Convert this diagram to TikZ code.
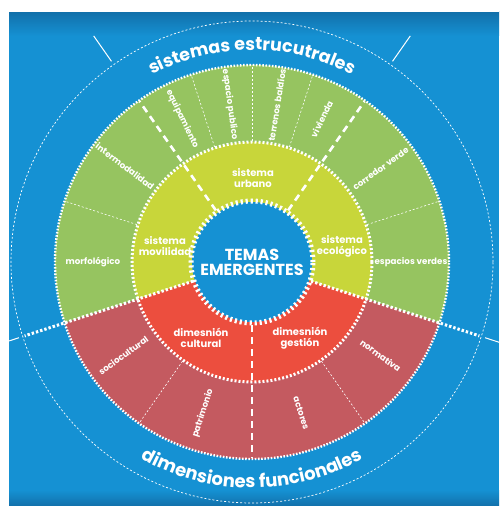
\documentclass[tikz,border=0pt]{standalone}
\usepackage{fontspec}
\setmainfont{Poppins}
\usepackage{tikz}
\usetikzlibrary{decorations.text}

\definecolor{bgblue}{RGB}{21,145,211}
\definecolor{bgdark}{RGB}{18,112,170}
\definecolor{ringgreen}{RGB}{150,196,96}
\definecolor{midgreen}{RGB}{200,214,58}
\definecolor{midred}{RGB}{236,78,62}
\definecolor{ringred}{RGB}{196,90,96}

\begin{document}
\begin{tikzpicture}[x=1pt, y=1pt,
  every node/.style={text=white, inner sep=1pt},
  seglabel/.style={font=\fontsize{8.7}{9}\selectfont\bfseries},
  midlabel/.style={font=\fontsize{10}{11}\selectfont\bfseries, align=center},
  thindash/.style={draw=white, line width=0.6pt, dash pattern=on 2pt off 2pt},
  thickdash/.style={draw=white, line width=2.6pt, dash pattern=on 7pt off 5pt},
  bounddots/.style={draw=white, line width=3pt, dash pattern=on 2.4pt off 2pt},
  coredots/.style={draw=white, line width=5pt, dash pattern=on 2.2pt off 2.8pt},
  middots/.style={draw=white, line width=3pt, dash pattern=on 2pt off 2pt},
  ringdots/.style={draw=white, line width=2.4pt, dash pattern=on 1.6pt off 1.6pt},
  tickline/.style={draw=white, line width=1pt},
]
\useasboundingbox (-252,-244) rectangle (247,262);

% background
\fill[bgblue] (-252,-244) rectangle (247,262);
\shade[top color=bgdark, bottom color=bgblue] (-252,226) rectangle (247,250);
\shade[top color=bgblue, bottom color=bgdark] (-252,-228) rectangle (247,-244);

% rings
\fill[ringgreen] (0,0) -- (-18:197) arc[start angle=-18, end angle=198, radius=197] -- cycle;
\fill[ringred]   (0,0) -- (198:197) arc[start angle=198, end angle=342, radius=197] -- cycle;
\fill[midgreen]  (0,0) -- (-18:120) arc[start angle=-18, end angle=198, radius=120] -- cycle;
\fill[midred]    (0,0) -- (198:120) arc[start angle=198, end angle=342, radius=120] -- cycle;
\fill[bgblue] (0,0) circle[radius=60];

% separators
\foreach \a in {18,72,90,108,162,235,305}
  \draw[thindash] (\a:121) -- (\a:196);
\foreach \a in {55,125,270}
  \draw[thickdash] (\a:63) -- (\a:196);
\foreach \a in {-18,198}
  \draw[bounddots] (\a:62) -- (\a:239);
\foreach \a in {-18,55,125,198}
  \draw[tickline] (\a:245) -- (\a:276);

\draw[thindash, line width=0.7pt] (0,0) circle[radius=241];
\draw[ringdots] (0,0) circle[radius=197];
\draw[middots] (0,0) circle[radius=120];
\draw[coredots] (0,0) circle[radius=61];

% arc titles
\path[decorate, decoration={text along path, text align=center,
  text={|\fontsize{17.5}{17}\selectfont\bfseries\color{white}|sistemas estrucutrales}}]
  (128:212) arc[start angle=128, end angle=52, radius=212];
\path[decorate, decoration={text along path, text align=center,
  text={|\fontsize{18}{17}\selectfont\bfseries\color{white}|dimensiones funcionales}}]
  (232:226) arc[start angle=232, end angle=308, radius=226];

% centre and middle ring
\node[font=\fontsize{16}{15}\selectfont\bfseries, align=center] (core) at (0,0) {TEMAS\\EMERGENTES};
\node[midlabel] (urbano)    at (1,84)    {sistema\\urbano};
\node[midlabel] (movilidad) at (-87,16)  {sistema\\movilidad};
\node[midlabel] (ecologico) at (90,16)   {sistema\\ecológico};
\node[midlabel] (cultural)  at (-51,-76) {dimesnión\\cultural};
\node[midlabel] (gestion)   at (48,-76)  {dimesnión\\gestión};

% outer ring
\foreach \a/\r/\txt [count=\i] in {0/0/espacios verdes, 36/36/corredor verde,
    64/64/vivienda, 81/81/terrenos baldíos, 98/-82/espacio publico,
    116/-64/equipamiento, 143/-37/intermodalidad, 180/0/morfológico,
    216/36/sociocultural, 252/72/patrimonio, 288/-72/actores, 324/-36/normativa}
  \node[seglabel, rotate=\r] (seg\i) at (\a:159) {\txt};

% margins
\fill[white] (-252,250) rectangle (247,262);
\fill[white] (-252,-244) rectangle (-243,262);
\end{tikzpicture}
\end{document}
